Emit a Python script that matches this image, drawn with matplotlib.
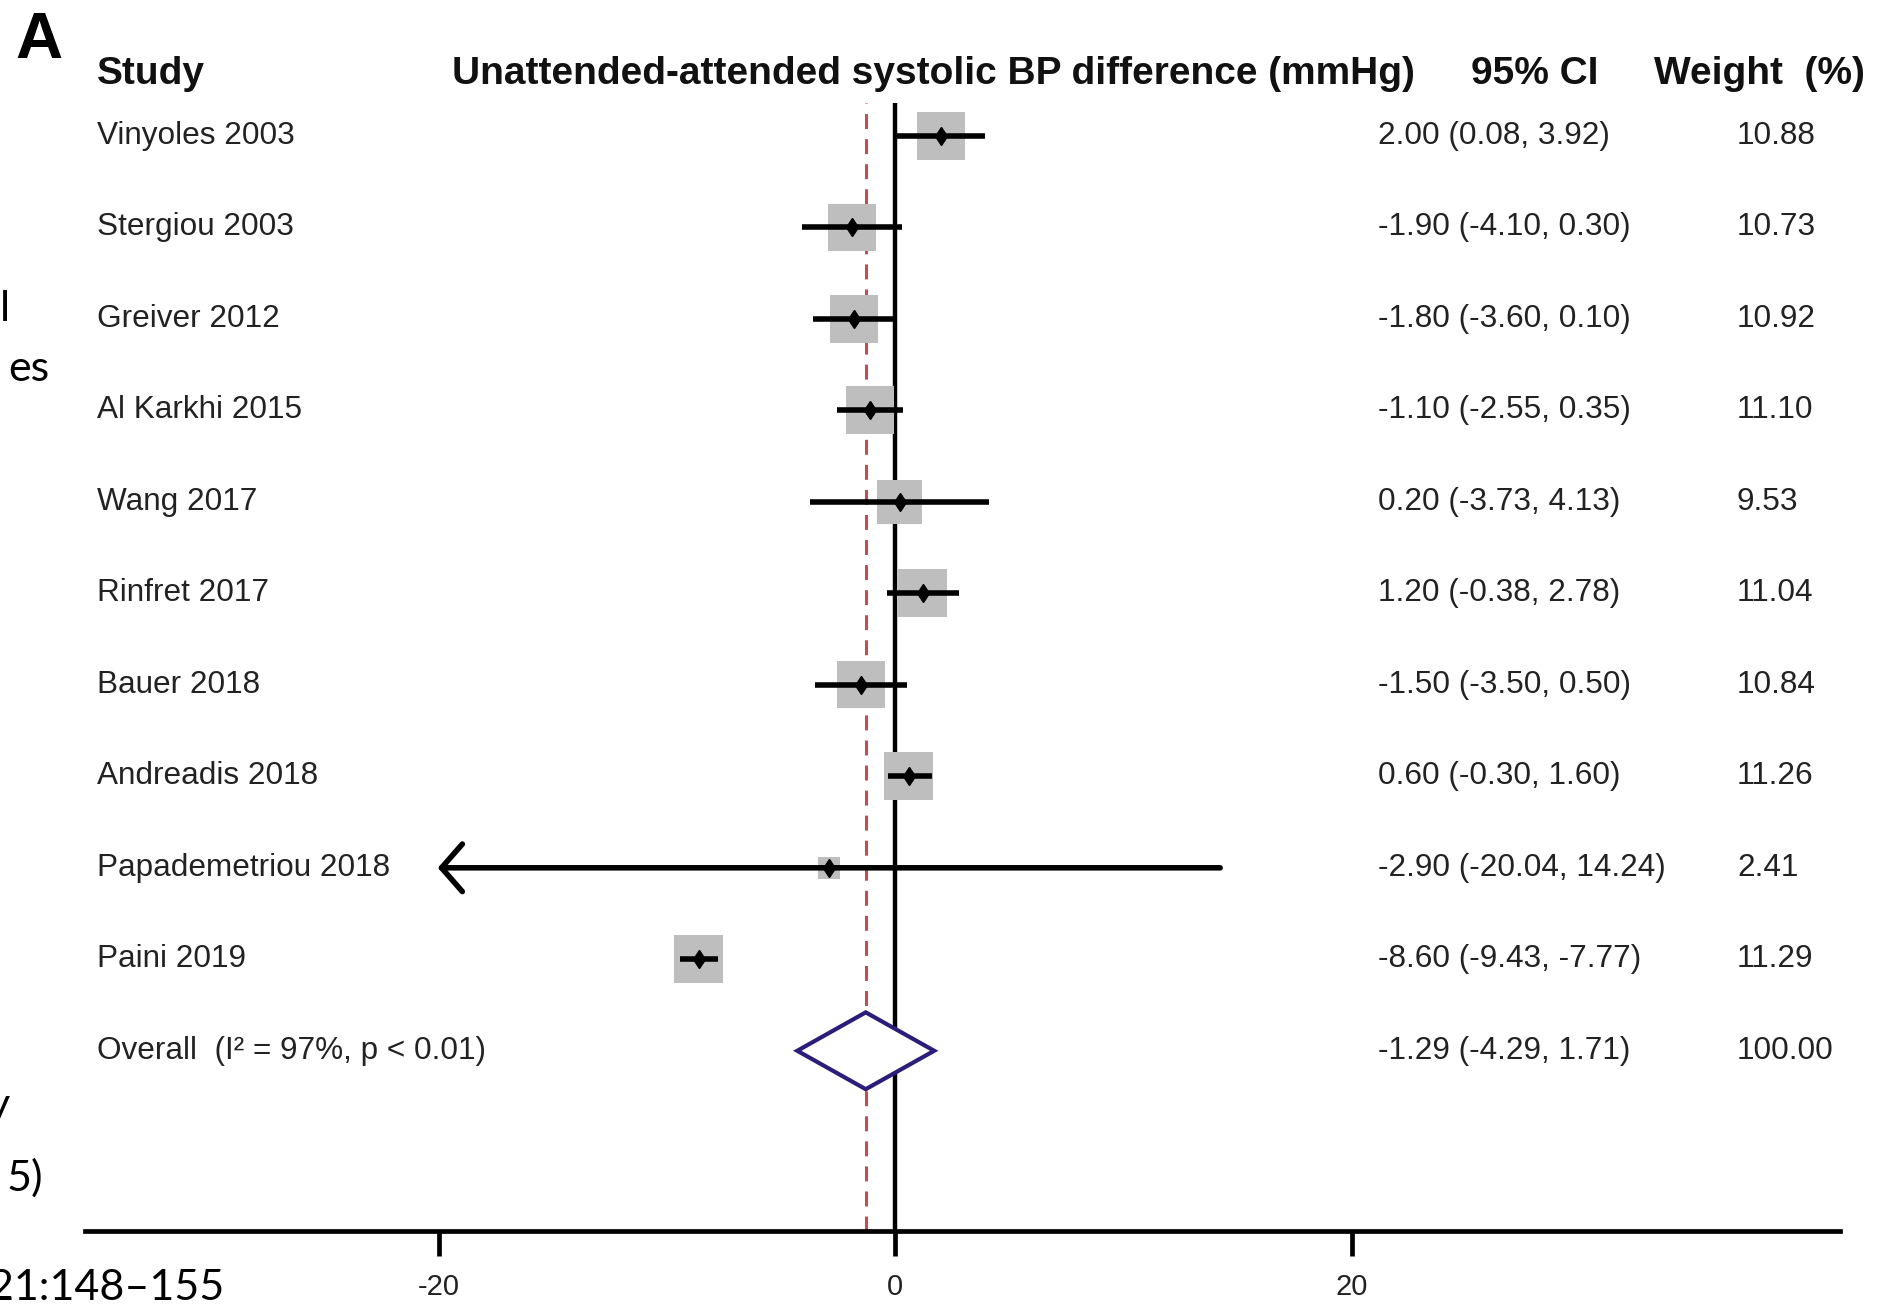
import matplotlib
matplotlib.use("Agg")
import matplotlib.pyplot as plt
import matplotlib.transforms as mtransforms
from matplotlib.patches import Rectangle, Polygon

plt.rcParams['font.family'] = ['Liberation Sans', 'DejaVu Sans']

# data
studies = ["Vinyoles 2003", "Stergiou 2003", "Greiver 2012", "Al Karkhi 2015", "Wang 2017",
           "Rinfret 2017", "Bauer 2018", "Andreadis 2018", "Papademetriou 2018", "Paini 2019"]
mean_diff = [2.00, -1.90, -1.80, -1.10, 0.20, 1.20, -1.50, 0.60, -2.90, -8.60]
ci_low = [0.08, -4.10, -3.60, -2.55, -3.73, -0.38, -3.50, -0.30, -20.04, -9.43]
ci_high = [3.92, 0.30, 0.10, 0.35, 4.13, 2.78, 0.50, 1.60, 14.24, -7.77]
weights = [10.88, 10.73, 10.92, 11.10, 9.53, 11.04, 10.84, 11.26, 2.41, 11.29]
arrow_left = [False, False, False, False, False, False, False, False, True, False]

overall_label = "Overall  (I\u00b2 = 97%, p < 0.01)"
overall_est = -1.29
overall_low = -4.29
overall_high = 1.71
overall_weight = 100.00

xticks = [-20, 0, 20]
headers = ["Study", "Unattended-attended systolic BP difference (mmHg)", "95% CI", "Weight  (%)"]

# slide text cut off at the left edge
edge_text = ["l", "es", "y", "5)", "21:148\u2013155"]

W, H = 1896, 1312
fig = plt.figure(figsize=(W / 100, H / 100), dpi=100)
ax = fig.add_axes([85 / W, 1 - 1231 / H, 1755 / W, (1231 - 103) / H])
ax.set_xlim(-35.5, 41.4)
ax.set_ylim(11.97, -0.36)

for s in ["top", "left", "right"]:
    ax.spines[s].set_visible(False)
ax.spines["bottom"].set_linewidth(3.4)
ax.set_yticks([])
ax.set_xticks(xticks)
ax.set_xticklabels([str(t) for t in xticks])
ax.tick_params(axis="x", length=18, width=3.4, labelsize=21, pad=12, labelcolor="#222222")

ax.axvline(0, color="black", lw=3.2, zorder=1)
ax.axvline(overall_est, color="#c0504d", lw=2.2, ls=(0, (4.9, 3.3)), zorder=1)

for i in range(len(studies)):
    sw = 0.64 * weights[i] ** 0.5
    sh = 0.157 * weights[i] ** 0.5
    ax.add_patch(Rectangle((mean_diff[i] - sw / 2, i - sh / 2), sw, sh,
                           facecolor="#bebebe", edgecolor="none", zorder=2))
    if arrow_left[i]:
        ax.annotate("", xy=(ci_low[i], i), xytext=(ci_high[i], i),
                    arrowprops=dict(arrowstyle="->,head_length=0.5,head_width=0.57",
                                    lw=4.0, color="black", mutation_scale=30,
                                    shrinkA=0, shrinkB=0), zorder=3)
    else:
        ax.plot([ci_low[i], ci_high[i]], [i, i], color="black", lw=4.0,
                solid_capstyle="butt", zorder=3)
    ax.plot(mean_diff[i], i, marker="d", color="black", ms=9.5, zorder=4)

yo = len(studies)
ax.add_patch(Polygon([(overall_low, yo), (overall_est, yo - 0.42), (overall_high, yo),
                      (overall_est, yo + 0.42)], closed=True, facecolor="white",
                     edgecolor="#2b1d7a", lw=3.0, zorder=3))

# table text
tr = mtransforms.blended_transform_factory(fig.transFigure, ax.transData)
col_name, col_ci, col_w = 97 / W, 1378 / W, 1737 / W
fs = 22.7
tc = "#222222"
for i in range(len(studies)):
    ax.text(col_name, i, studies[i], transform=tr, fontsize=fs, va="center", color=tc)
    ax.text(col_ci, i, f"{mean_diff[i]:.2f} ({ci_low[i]:.2f}, {ci_high[i]:.2f})",
            transform=tr, fontsize=fs, va="center", color=tc)
    ax.text(col_w, i, f"{weights[i]:.2f}", transform=tr, fontsize=fs, va="center", color=tc)
ax.text(col_name, yo, overall_label, transform=tr, fontsize=fs, va="center", color=tc)
ax.text(col_ci, yo, f"{overall_est:.2f} ({overall_low:.2f}, {overall_high:.2f})",
        transform=tr, fontsize=fs, va="center", color=tc)
ax.text(col_w, yo, f"{overall_weight:.2f}", transform=tr, fontsize=fs, va="center", color=tc)

head_x = [97 / W, 452 / W, 1471 / W, 1654 / W]
for hx, h in zip(head_x, headers):
    ax.text(hx, -0.68, h, transform=tr, fontsize=28, fontweight="bold", va="center", color="#111111")

fig.text(15 / W, 1 - 58 / H, "A", fontsize=47, fontweight="bold", va="baseline")

edge_x = [10, 49, 10, 43, 224]
edge_y = [321, 381, 1118, 1191, 1300]
for ex, ey, t in zip(edge_x, edge_y, edge_text):
    fig.text(ex / W, 1 - ey / H, t, fontsize=31, family="Lato", ha="right", va="baseline")

fig.savefig("out.png", dpi=100, facecolor="white")
